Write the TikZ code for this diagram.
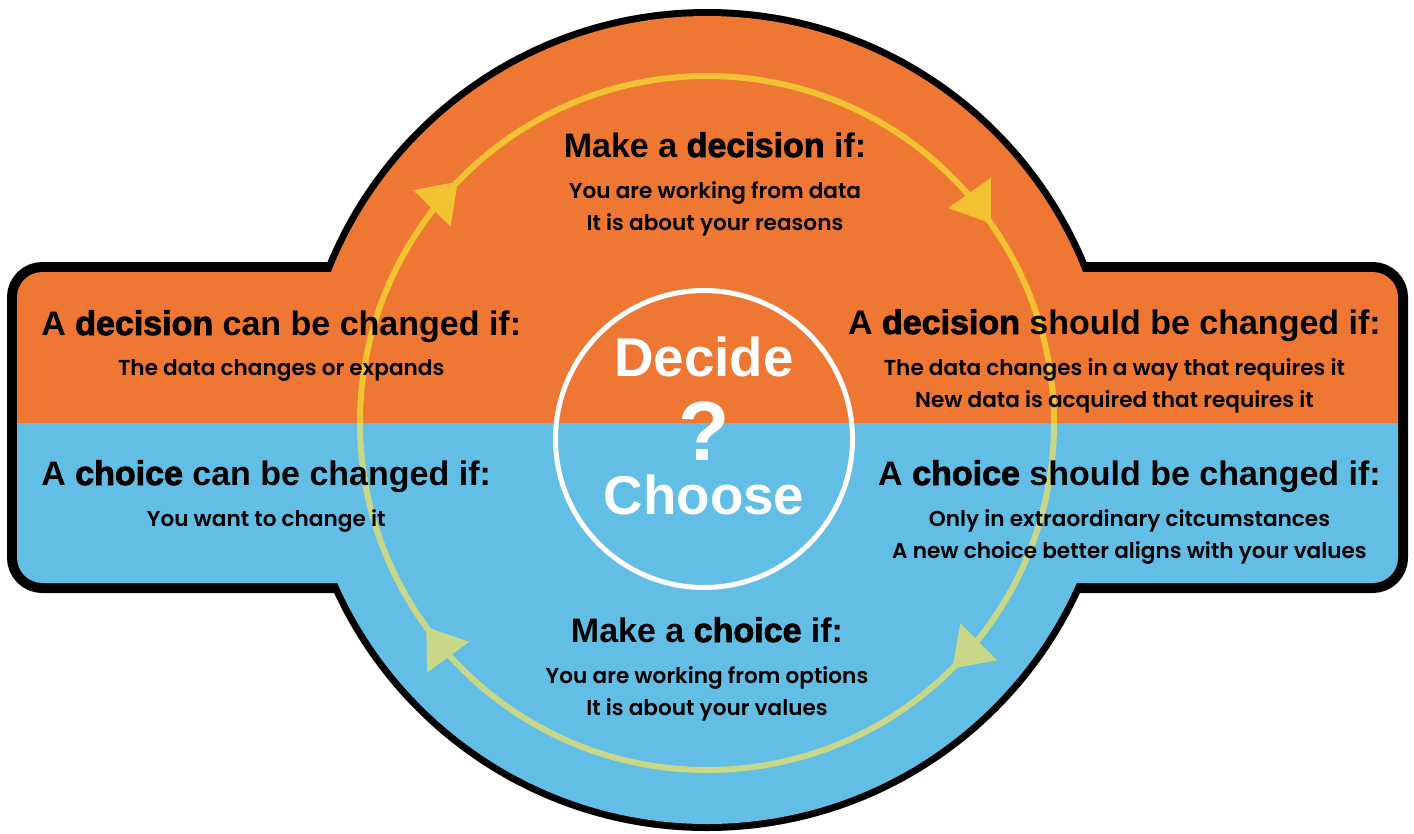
\documentclass[tikz,border=0pt]{standalone}
\usepackage{fontspec}
\setmainfont{Liberation Sans}
\newfontfamily\heavyfont[FakeBold=2.5]{Liberation Sans Bold}
\newfontfamily\bodyfont{Poppins SemiBold}
\usetikzlibrary{positioning,arrows.meta,decorations.markings}

\definecolor{decideorange}{RGB}{239,119,52}
\definecolor{chooseblue}{RGB}{99,190,230}
\definecolor{ringyellow}{RGB}{243,194,50}
\definecolor{ringgreen}{RGB}{200,216,136}

% heavier word inside a heading
\newcommand{\hvy}[1]{{\mdseries\heavyfont #1}}

\begin{document}
\begin{tikzpicture}[x=0.75pt,y=0.75pt,yscale=-1,xscale=1,
    head/.style={inner sep=0pt, text depth=6pt, font=\fontsize{25.5}{30}\selectfont\bfseries},
    body/.style={inner sep=0pt, align=center, font=\bodyfont\fontsize{16.2}{24}\selectfont},
    bigword/.style={inner sep=0pt, text=white, font=\fontsize{41}{46}\selectfont\bfseries},
    ring/.style={line width=4.5pt},
    ringarrows/.style 2 args={postaction={decorate}, decoration={markings,
        mark=at position #1 with {\arrow{Triangle[length=28pt,width=38pt]}},
        mark=at position #2 with {\arrow{Triangle[length=28pt,width=38pt]}}}},
    node distance=12pt]
    \useasboundingbox (0,0) rectangle (1414,833);

    \coordinate (hub) at (707,420);
    \coordinate (ringc) at (707,423);

    % black outline of the badge
    \draw [line width=10.5pt] (hub) circle (404);
    \draw [line width=15pt, rounded corners=19pt] (17,272) rectangle (1398,583);

    % orange top half
    \begin{scope}
        \clip (0,0) rectangle (1414,423);
        \fill [decideorange] (hub) circle (404);
        \fill [decideorange, rounded corners=19pt] (17,272) rectangle (1398,583);
    \end{scope}
    % blue bottom half
    \begin{scope}
        \clip (0,423) rectangle (1414,833);
        \fill [chooseblue] (hub) circle (404);
        \fill [chooseblue, rounded corners=19pt] (17,272) rectangle (1398,583);
    \end{scope}

    % the cycle
    \draw [ring, ringyellow, ringarrows={0.245}{0.805}] (ringc) ++(180:347) arc [start angle=180, end angle=360, radius=347];
    \draw [ring, ringgreen, ringarrows={0.25}{0.8}] (ringc) ++(0:347) arc [start angle=0, end angle=180, radius=347];

    % centre disc
    \draw [white, line width=3.75pt] (704,439) circle (148.5);
    \node [bigword, anchor=base] (decide) at (704,376) {Decide};
    \node [bigword, anchor=base, font=\fontsize{63}{68}\selectfont\bfseries] (qmark) at (704,460) {?};
    \node [bigword, anchor=base] (choose) at (704,514) {Choose};

    % top
    \node [head, anchor=base] (mkdec) at (715,157) {Make a \hvy{decision} if:};
    \node [body, below=of mkdec] (mkdecb) {You are working from data\\It is about your reasons};

    % left side
    \node [head, anchor=base west] (candec) at (41,335) {A \hvy{decision} can be changed if:};
    \node [body, below=of candec] (candecb) {The data changes or expands};
    \node [head, anchor=base west] (canch) at (41,485) {A \hvy{choice} can be changed if:};
    \node [body, below=of canch] (canchb) {You want to change it};

    % right side
    \node [head, anchor=base east] (shdec) at (1381,334) {A \hvy{decision} should be changed if:};
    \node [body, below=of shdec] (shdecb) {The data changes in a way that requires it\\New data is acquired that requires it};
    \node [head, anchor=base east] (shch) at (1381,485) {A \hvy{choice} should be changed if:};
    \node [body, below=of shch] (shchb) {Only in extraordinary citcumstances\\A new choice better aligns with your values};

    % bottom
    \node [head, anchor=base] (mkch) at (707,642) {Make a \hvy{choice} if:};
    \node [body, below=of mkch] (mkchb) {You are working from options\\It is about your values};
\end{tikzpicture}
\end{document}
